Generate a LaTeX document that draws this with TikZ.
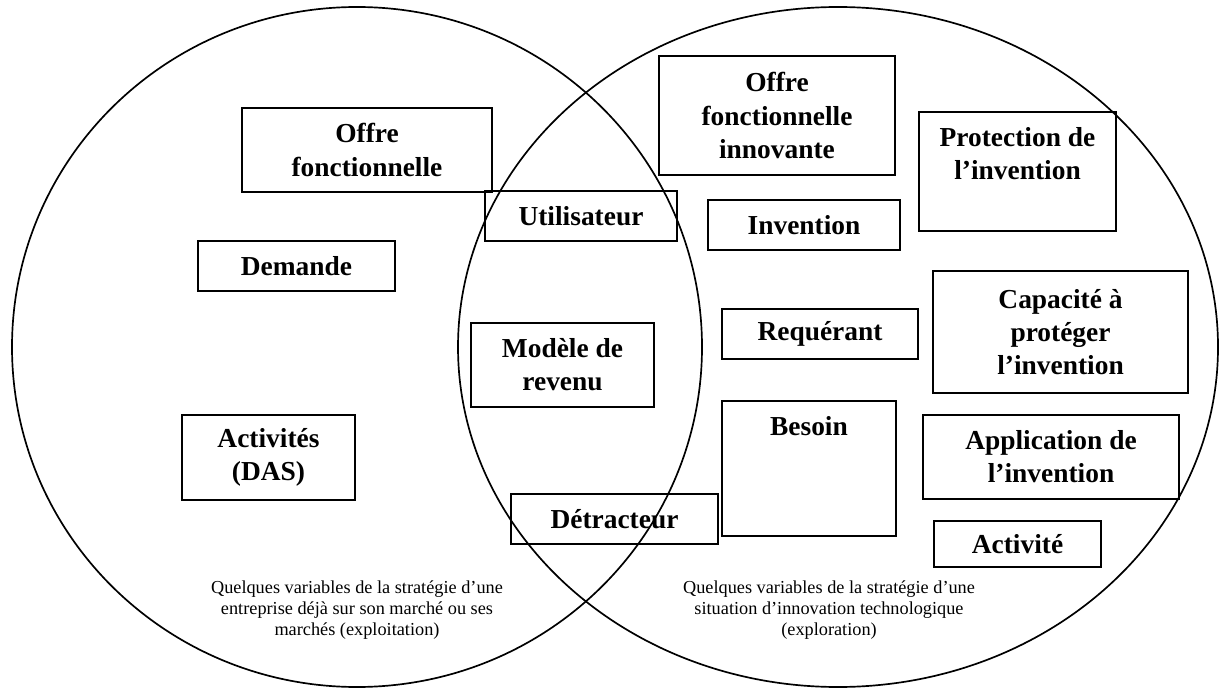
\documentclass[tikz,border=0pt]{standalone}
\usepackage{fontspec}
\setmainfont{Liberation Serif}
\usepackage{tikz}
\usetikzlibrary{positioning}
\tikzset{
    varbox/.style={
        rectangle,
        draw=black,
        line width=1.4pt,
        inner sep=0pt,
        align=center,
        font=\fontsize{19.5}{23.5}\selectfont\bfseries
    },
    boxlabel/.style={
        inner sep=0pt,
        align=center,
        font=\fontsize{19.5}{23.5}\selectfont\bfseries
    },
    venn/.style={
        draw=black,
        line width=1.2pt
    },
    caption/.style={
        align=center,
        inner sep=0pt,
        font=\fontsize{13}{15}\selectfont
    }
}

\begin{document}
\begin{tikzpicture}[x=0.025cm, y=-0.025cm]
    \useasboundingbox (0,0) rectangle (1220,688);

    % Exploitation side
    \node[varbox, minimum width=6.25cm, minimum height=2.1cm] (offre) at (367,150) {Offre\\fonctionnelle};
    \node[varbox, minimum width=4.925cm, minimum height=1.25cm] (demande) at (296.5,266) {Demande};
    \node[varbox, minimum width=4.325cm, minimum height=2.125cm] (activites) at (268.5,457.5) {Activités\\(DAS)};

    % Shared variables
    \node[varbox, minimum width=4.8cm, minimum height=1.25cm] (utilisateur) at (581,216) {Utilisateur};
    \node[varbox, minimum width=4.575cm, minimum height=2.1cm] (modele) at (562.5,365) {Modèle de\\revenu};
    \node[varbox, minimum width=5.175cm, minimum height=1.25cm] (detracteur) at (614.5,519) {Détracteur};

    % Exploration side
    \node[varbox, minimum width=5.9cm, minimum height=2.975cm] (offreinno) at (777,115.5) {Offre\\fonctionnelle\\innovante};
    \node[varbox, minimum width=4.925cm, minimum height=2.975cm] (protection) at (1017.5,171.5) {};
    \node[boxlabel] (protectionlabel) at (1017.5,153.5) {Protection de\\l’invention};
    \node[varbox, minimum width=4.8cm, minimum height=1.25cm] (invention) at (804,225) {Invention};
    \node[varbox, minimum width=6.375cm, minimum height=3.05cm] (capacite) at (1060.5,332) {Capacité à\\protéger\\l’invention};
    \node[varbox, minimum width=4.9cm, minimum height=1.25cm] (requerant) at (820,334) {Requérant};
    \node[varbox, minimum width=4.35cm, minimum height=3.375cm] (besoin) at (809,468.5) {};
    \node[boxlabel] (besoinlabel) at (809,426) {Besoin};
    \node[varbox, minimum width=6.4cm, minimum height=2.1cm] (application) at (1051,457) {Application de\\l’invention};
    \node[varbox, minimum width=4.175cm, minimum height=1.15cm] (activite) at (1017.5,544) {Activité};

    % Captions
    \node[caption] (capexploit) at (357,610) {Quelques variables de la stratégie d’une\\entreprise déjà sur son marché ou ses\\marchés (exploitation)};
    \node[caption] (capexplor) at (829,610) {Quelques variables de la stratégie d’une\\situation d’innovation technologique\\(exploration)};

    % The two sets
    \draw[venn] (357,347) ellipse [x radius=345, y radius=340];
    \draw[venn] (838,347) ellipse [x radius=380, y radius=340];
\end{tikzpicture}
\end{document}
